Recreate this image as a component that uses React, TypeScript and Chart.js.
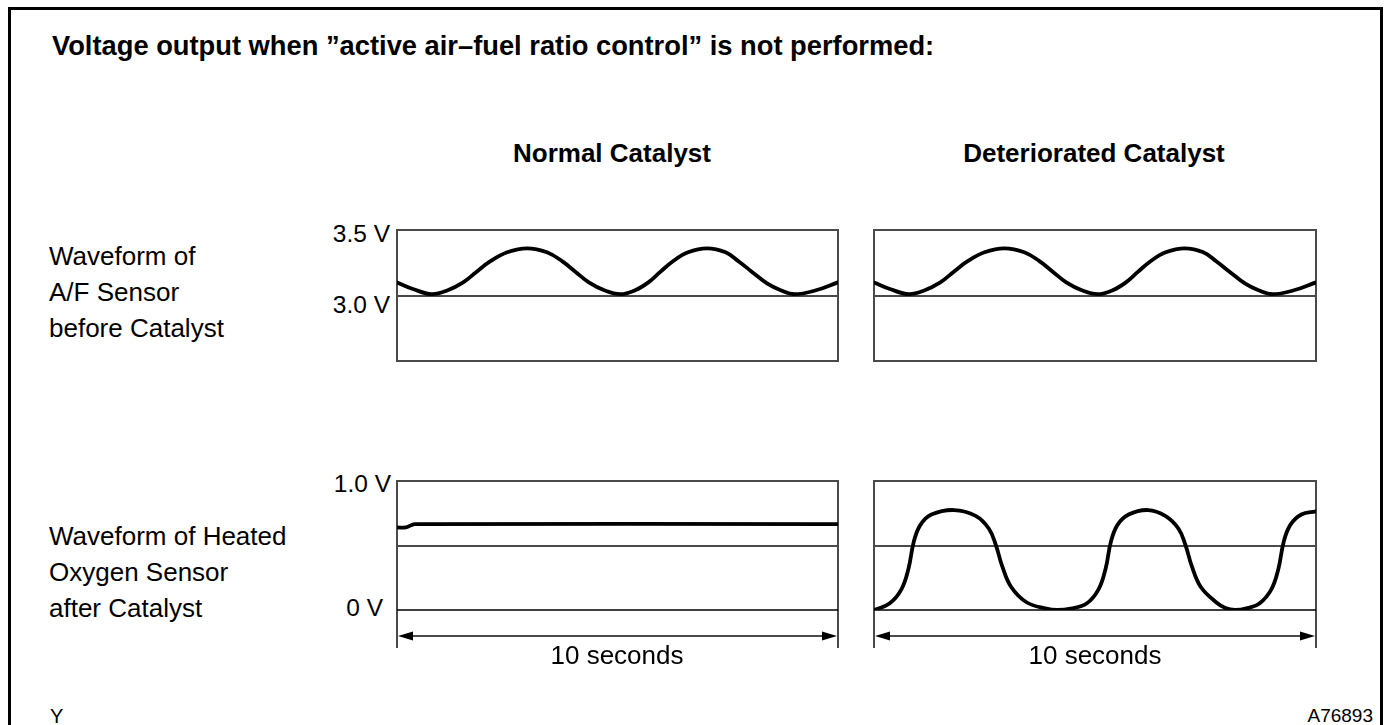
import React, { useEffect, useRef } from "react";
import { Chart, registerables } from "chart.js";
Chart.register(...registerables);

// ---- data ----
const titleText = "Voltage output when ”active air–fuel ratio control” is not performed:";
const columnTitles = ["Normal Catalyst", "Deteriorated Catalyst"];
const rowLabelsAF = ["Waveform of", "A/F Sensor", "before Catalyst"];
const rowLabelsHO = ["Waveform of Heated", "Oxygen Sensor", "after Catalyst"];
const afTickLabels = ["3.5 V", "3.0 V"];
const hoTickLabels = ["1.0 V", "0 V"];
const durationLabel = "10 seconds";

// A/F sensor (before catalyst), seconds / volts
const afTimes = [0, 0.36, 0.79, 1.15, 1.5, 1.8, 2.11, 2.5, 2.95, 3.4, 3.75, 4.05, 4.35, 4.7, 5.06, 5.4, 5.7, 5.97, 6.25, 6.6, 7.03, 7.45, 7.75, 8.05, 8.4, 8.7, 9.02, 9.5, 10];
const afNormalValues = [3.1, 3.05, 3.01, 3.04, 3.1, 3.18, 3.26, 3.33, 3.36, 3.33, 3.26, 3.18, 3.1, 3.04, 3.01, 3.04, 3.1, 3.18, 3.26, 3.33, 3.36, 3.33, 3.26, 3.18, 3.09, 3.04, 3.01, 3.04, 3.1];
const afDeterioratedValues = [3.1, 3.05, 3.01, 3.04, 3.1, 3.18, 3.26, 3.33, 3.36, 3.33, 3.26, 3.18, 3.1, 3.04, 3.01, 3.04, 3.1, 3.18, 3.26, 3.33, 3.36, 3.33, 3.26, 3.18, 3.09, 3.04, 3.01, 3.04, 3.1];

// Heated oxygen sensor (after catalyst)
const hoNormalTimes = [0, 0.2, 0.4, 10];
const hoNormalValues = [0.64, 0.64, 0.665, 0.665];
const hoDetTimes = [
  0, 0.35, 0.62, 0.78, 0.9, 1.05, 1.3, 1.81, 2.3, 2.6, 2.76, 2.9, 3.1, 3.45, 3.9, 4.14,
  4.45, 4.81, 5.08, 5.24, 5.36, 5.51, 5.76, 6.2, 6.59, 6.89, 7.05, 7.19, 7.39, 7.74, 7.95, 8.17,
  8.45, 8.72, 8.99, 9.15, 9.27, 9.42, 9.67, 10,
];
const hoDetValues = [
  0, 0.05, 0.16, 0.32, 0.53, 0.66, 0.74, 0.775, 0.73, 0.63, 0.5, 0.34, 0.18, 0.06, 0.01, 0,
  0.01, 0.05, 0.16, 0.32, 0.53, 0.66, 0.74, 0.775, 0.73, 0.63, 0.5, 0.34, 0.18, 0.06, 0.015, 0,
  0.015, 0.05, 0.16, 0.32, 0.53, 0.66, 0.74, 0.765,
];

const FONT = "'Liberation Sans', Arial, Helvetica, sans-serif";

const framePlugin = {
  id: "frame",
  beforeDatasetsDraw(chart: any, _args: any, opts: any) {
    const { ctx, chartArea: a, scales } = chart;
    const y = scales.y;
    const seg = (x1: number, y1: number, x2: number, y2: number) => {
      ctx.beginPath();
      ctx.moveTo(x1, y1);
      ctx.lineTo(x2, y2);
      ctx.stroke();
    };
    ctx.save();
    ctx.strokeStyle = "#4a4a4a";
    ctx.lineWidth = 2;
    if (opts.kind === "af") {
      ctx.strokeRect(a.left, a.top, a.right - a.left, a.bottom - a.top);
      const ym = Math.round(y.getPixelForValue(opts.mid));
      seg(a.left, ym, a.right, ym);
    } else {
      seg(a.left - 1, a.top, a.right + 1, a.top);
      seg(a.left, a.top, a.left, a.bottom + opts.ext);
      seg(a.right, a.top, a.right, a.bottom + opts.ext);
      const ym = Math.round(y.getPixelForValue(opts.mid));
      seg(a.left, ym, a.right, ym);
      ctx.strokeStyle = "#000";
      ctx.lineWidth = 1.4;
      const y0 = Math.round(y.getPixelForValue(0));
      seg(a.left, y0, a.right, y0);
    }
    ctx.restore();
  },
  afterDatasetsDraw(chart: any, _args: any, opts: any) {
    if (opts.kind !== "ho") return;
    const { ctx, chartArea: a } = chart;
    const ya = a.bottom + opts.arrow;
    ctx.save();
    ctx.strokeStyle = "#4a4a4a";
    ctx.lineWidth = 2;
    ctx.beginPath();
    ctx.moveTo(a.left + 10, ya);
    ctx.lineTo(a.right - 10, ya);
    ctx.stroke();
    ctx.fillStyle = "#000";
    ctx.beginPath();
    ctx.moveTo(a.left + 1, ya);
    ctx.lineTo(a.left + 16, ya - 4.5);
    ctx.lineTo(a.left + 16, ya + 4.5);
    ctx.closePath();
    ctx.fill();
    ctx.beginPath();
    ctx.moveTo(a.right - 1, ya);
    ctx.lineTo(a.right - 16, ya - 4.5);
    ctx.lineTo(a.right - 16, ya + 4.5);
    ctx.closePath();
    ctx.fill();
    ctx.restore();
  },
};

type WaveProps = {
  left: number;
  top: number;
  width: number;
  height: number;
  padBottom: number;
  kind: "af" | "ho";
  times: number[];
  values: number[];
  yMin: number;
  yMax: number;
  mid: number;
  tension: number;
};

function WaveChart(p: WaveProps) {
  const ref = useRef<HTMLCanvasElement>(null);
  useEffect(() => {
    if (!ref.current) return;
    const chart = new Chart(ref.current, {
      type: "line",
      data: {
        datasets: [
          {
            data: p.times.map((t, i) => ({ x: t, y: p.values[i] })),
            borderColor: "#000",
            borderWidth: 3.8,
            pointRadius: 0,
            fill: false,
            tension: p.tension,
            borderJoinStyle: "round",
            borderCapStyle: "round",
          },
        ],
      },
      options: {
        animation: false,
        responsive: false,
        devicePixelRatio: 1,
        events: [],
        layout: { padding: { left: 10, right: 10, top: 10, bottom: p.padBottom } },
        scales: {
          x: { type: "linear", min: 0, max: 10, display: false },
          y: { type: "linear", min: p.yMin, max: p.yMax, display: false },
        },
        plugins: {
          legend: { display: false },
          tooltip: { enabled: false },
          frame: { kind: p.kind, mid: p.mid, ext: 38, arrow: 26 },
        } as any,
      },
      plugins: [framePlugin],
    } as any);
    return () => chart.destroy();
  }, []);
  return (
    <canvas
      ref={ref}
      width={p.width}
      height={p.height}
      style={{ position: "absolute", left: p.left, top: p.top, width: p.width, height: p.height }}
    />
  );
}

function Txt(props: {
  text: string;
  x: number;
  baseline: number;
  size: number;
  bold?: boolean;
  align?: "left" | "right" | "center";
  family?: string;
}) {
  const { text, x, baseline, size, bold, align = "left", family = FONT } = props;
  const L = Math.round(size * 1.3);
  const top = baseline - L / 2 - 0.3465 * size;
  const w = 1000;
  let left = x;
  if (align === "right") left = x - w;
  if (align === "center") left = x - w / 2;
  return (
    <div
      style={{
        position: "absolute",
        left,
        top,
        width: w,
        textAlign: align,
        fontFamily: family,
        fontSize: size,
        lineHeight: `${L}px`,
        fontWeight: bold ? "bold" : "normal",
        color: "#000",
        whiteSpace: "nowrap",
      }}
    >
      {text}
    </div>
  );
}

export default function App() {
  return (
    <div
      style={{
        position: "fixed",
        left: 0,
        top: 0,
        width: 1388,
        height: 725,
        overflow: "hidden",
        background: "#fff",
      }}
    >
      <div
        style={{
          position: "absolute",
          left: 8,
          top: 7,
          width: 1375 - 6,
          height: 760,
          borderLeft: "3px solid #000",
          borderTop: "3px solid #000",
          borderRight: "3px solid #000",
        }}
      />
      <Txt text={titleText} x={52} baseline={55} size={27.3} bold />
      <Txt text={columnTitles[0]} x={612} baseline={162} size={26} bold align="center" />
      <Txt text={columnTitles[1]} x={1094} baseline={162} size={26} bold align="center" />

      {rowLabelsAF.map((t, i) => (
        <Txt key={"a" + i} text={t} x={49} baseline={265 + i * 36} size={26} />
      ))}
      {rowLabelsHO.map((t, i) => (
        <Txt key={"h" + i} text={t} x={49} baseline={545 + i * 36} size={26} />
      ))}

      <Txt text={afTickLabels[0]} x={390} baseline={242} size={24.5} align="right" />
      <Txt text={afTickLabels[1]} x={390} baseline={313} size={24.5} align="right" />
      <Txt text={hoTickLabels[0]} x={391} baseline={492} size={24.5} align="right" />
      <Txt text={hoTickLabels[1]} x={383} baseline={616} size={24.5} align="right" />

      <WaveChart left={387} top={220} width={461} height={151} padBottom={10} kind="af"
        times={afTimes} values={afNormalValues} yMin={2.5} yMax={3.5} mid={3.0} tension={0.4} />
      <WaveChart left={864} top={220} width={462} height={151} padBottom={10} kind="af"
        times={afTimes} values={afDeterioratedValues} yMin={2.5} yMax={3.5} mid={3.0} tension={0.4} />
      <WaveChart left={387} top={471} width={461} height={189} padBottom={50} kind="ho"
        times={hoNormalTimes} values={hoNormalValues} yMin={0} yMax={1.0} mid={0.5} tension={0.3} />
      <WaveChart left={864} top={471} width={462} height={189} padBottom={50} kind="ho"
        times={hoDetTimes} values={hoDetValues} yMin={0} yMax={1.0} mid={0.5} tension={0.4} />

      <Txt text={durationLabel} x={617} baseline={664} size={26} align="center" />
      <Txt text={durationLabel} x={1095} baseline={664} size={26} align="center" />

      <Txt text="Y" x={50} baseline={723} size={20} />
      <Txt text="A76893" x={1373} baseline={722} size={19}
        family="'Liberation Sans Narrow', 'Liberation Sans', Arial, sans-serif" align="right" />
    </div>
  );
}
